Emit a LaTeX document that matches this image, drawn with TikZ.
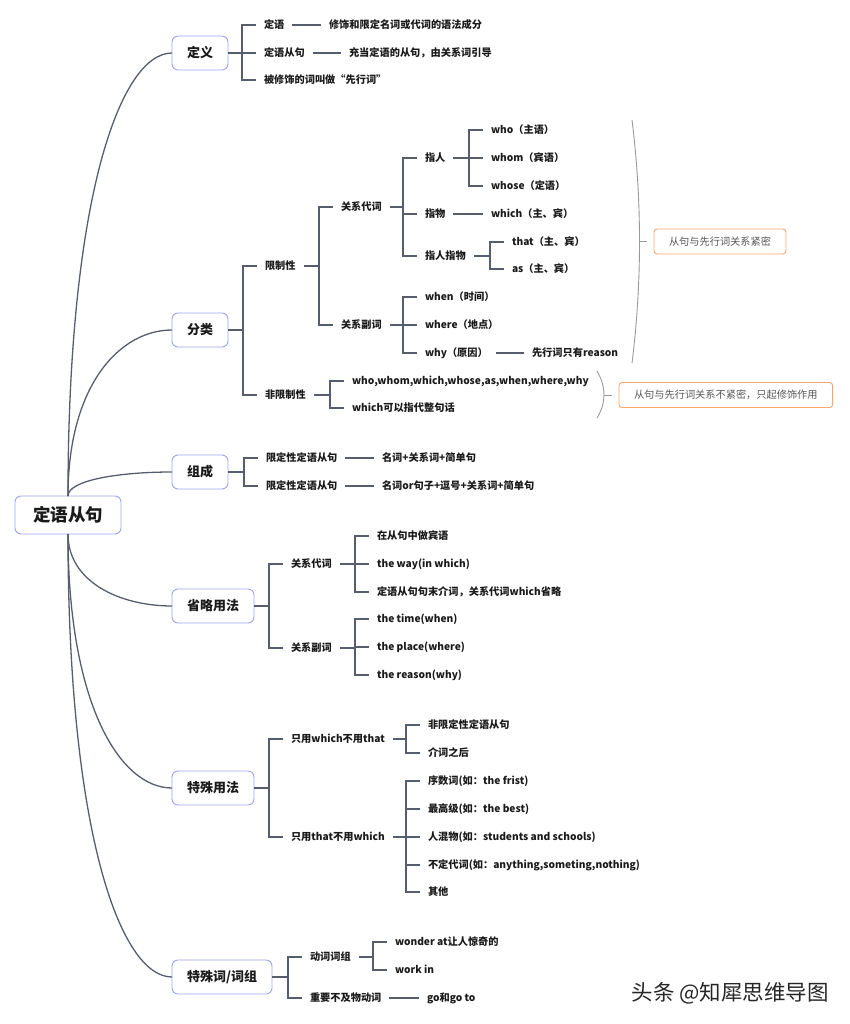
\documentclass[tikz,border=0pt]{standalone}
\usepackage{fontspec}
\setmainfont{Noto Sans CJK SC}
\definecolor{lc}{HTML}{565D6C}
\definecolor{bx}{HTML}{9EA2F2}
\definecolor{oc}{HTML}{F7A66C}
\definecolor{gc}{HTML}{9A9A9A}
\definecolor{nc}{HTML}{555555}
\definecolor{tc}{HTML}{1A1A1A}
\begin{document}
\begin{tikzpicture}[x=1pt,y=-1pt,
 conn/.style={draw=lc, line width=1.4pt},
 curv/.style={draw=lc, line width=1.3pt},
 rootbox/.style={draw=bx, line width=0.9pt, rounded corners=6pt, fill=white, text=tc,
   font=\fontsize{17.5}{20}\selectfont\bfseries, inner xsep=18pt, minimum height=38pt, anchor=west, outer sep=0pt},
 mainbox/.style={draw=bx, line width=0.9pt, rounded corners=6pt, fill=white, text=tc,
   font=\fontsize{13}{15}\selectfont\bfseries, inner xsep=15pt, minimum height=34pt, anchor=west, outer sep=0pt},
 leaf/.style={font=\fontsize{10.2}{12}\selectfont\bfseries, text=tc, inner xsep=0pt, inner ysep=1pt,
   outer xsep=8pt, outer ysep=0pt, text height=8.5pt, text depth=1.7pt, anchor=west},
 note/.style={draw=oc, line width=0.9pt, rounded corners=3pt, font=\fontsize{10.2}{12}\selectfont,
   text=nc, inner xsep=15pt, minimum height=25pt, anchor=west, outer sep=0pt},
 brc/.style={draw=gc, line width=0.9pt},
 wm/.style={font=\fontsize{21.5}{25}\selectfont, text=black!85, anchor=west}
]
\useasboundingbox (0,0) rectangle (849,1024);

% root and main branches
\node[rootbox] (root) at (15,515) {定语从句};
\node[mainbox] (d1) at (172,53) {定义};
\node[mainbox] (d2) at (172,330) {分类};
\node[mainbox] (d3) at (172,472) {组成};
\node[mainbox] (d4) at (172,606) {省略用法};
\node[mainbox] (d5) at (172,788) {特殊用法};
\node[mainbox] (d6) at (172,977) {特殊词/词组};

\draw[curv] (root.north) .. controls +(0,-297) and +(-52,0) .. (d1.west);
\draw[curv] (root.north) .. controls +(0,-111) and +(-52,0) .. (d2.west);
\draw[curv] (root.north) .. controls +(0,-16) and +(-52,0) .. (d3.west);
\draw[curv] (root.south) .. controls +(0,48) and +(-52,0) .. (d4.west);
\draw[curv] (root.south) .. controls +(0,170) and +(-52,0) .. (d5.west);
\draw[curv] (root.south) .. controls +(0,297) and +(-52,0) .. (d6.west);

% 定义
\node[leaf] (a1) at (256,25) {定语};
\node[leaf] (a2) at (256,53) {定语从句};
\node[leaf] (a3) at (256,80) {被修饰的词叫做“先行词”};
\node[leaf] (a1c) at (321,25) {修饰和限定名词或代词的语法成分};
\node[leaf] (a2c) at (341,53) {充当定语的从句，由关系词引导};
\foreach \c in {a1,a2,a3} \draw[conn] (\c.west) -- ++(-14,0) |- (d1.east);
\draw[conn] (a1.east) -- (a1c.west);
\draw[conn] (a2.east) -- (a2c.west);

% 分类
\node[leaf] (b1) at (257,266) {限制性};
\node[leaf] (b2) at (257,395) {非限制性};
\node[leaf] (b11) at (333,207) {关系代词};
\node[leaf] (b12) at (333,325) {关系副词};
\node[leaf] (b111) at (417,158) {指人};
\node[leaf] (b112) at (417,214) {指物};
\node[leaf] (b113) at (417,256) {指人指物};
\node[leaf] (c1) at (483,130) {who（主语）};
\node[leaf] (c2) at (483,158) {whom（宾语）};
\node[leaf] (c3) at (483,186) {whose（定语）};
\node[leaf] (c4) at (483,214) {which（主、宾）};
\node[leaf] (c5) at (504,242) {that（主、宾）};
\node[leaf] (c6) at (504,269) {as（主、宾）};
\node[leaf] (c7) at (417,297) {when（时间）};
\node[leaf] (c8) at (417,325) {where（地点）};
\node[leaf] (c9) at (417,353) {why（原因）};
\node[leaf] (c9c) at (524,353) {先行词只有reason};
\node[leaf] (c10) at (344,381) {who,whom,which,whose,as,when,where,why};
\node[leaf] (c11) at (344,408) {which可以指代整句话};
\foreach \c in {b1,b2} \draw[conn] (\c.west) -- ++(-14,0) |- (d2.east);
\foreach \c in {b11,b12} \draw[conn] (\c.west) -- ++(-14,0) |- (b1.east);
\foreach \c in {b111,b112,b113} \draw[conn] (\c.west) -- ++(-14,0) |- (b11.east);
\foreach \c in {c1,c2,c3} \draw[conn] (\c.west) -- ++(-14,0) |- (b111.east);
\draw[conn] (b112.east) -- (c4.west);
\foreach \c in {c5,c6} \draw[conn] (\c.west) -- ++(-14,0) |- (b113.east);
\foreach \c in {c7,c8,c9} \draw[conn] (\c.west) -- ++(-14,0) |- (b12.east);
\draw[conn] (c9.east) -- (c9c.west);
\foreach \c in {c10,c11} \draw[conn] (\c.west) -- ++(-14,0) |- (b2.east);

% notes with braces
\node[note] (ob1) at (654,241.5) {从句与先行词关系紧密};
\node[note] (ob2) at (619,395) {从句与先行词关系不紧密，只起修饰作用};
\draw[brc] (632,120) .. controls (642,200) and (642,283) .. (632,363);
\coordinate (k1) at (639.5,241.5);
\draw[brc, shorten >=7pt] (k1) -- (ob1.west);
\draw[brc] (597,371) .. controls (606.3,387) and (606.3,403) .. (597,418);
\coordinate (k2) at (604,395);
\draw[brc, shorten >=7pt] (k2) -- (ob2.west);

% 组成
\node[leaf] (e1) at (258,458) {限定性定语从句};
\node[leaf] (e2) at (258,486) {限定性定语从句};
\node[leaf] (e1c) at (374,458) {名词+关系词+简单句};
\node[leaf] (e2c) at (374,486) {名词or句子+逗号+关系词+简单句};
\foreach \c in {e1,e2} \draw[conn] (\c.west) -- ++(-14,0) |- (d3.east);
\draw[conn] (e1.east) -- (e1c.west);
\draw[conn] (e2.east) -- (e2c.west);

% 省略用法
\node[leaf] (f1) at (283,564) {关系代词};
\node[leaf] (f2) at (283,648) {关系副词};
\node[leaf] (f11) at (369,536) {在从句中做宾语};
\node[leaf] (f12) at (369,564) {the way(in which)};
\node[leaf] (f13) at (369,592) {定语从句句末介词，关系代词which省略};
\node[leaf] (f21) at (369,619) {the time(when)};
\node[leaf] (f22) at (369,647) {the place(where)};
\node[leaf] (f23) at (369,675) {the reason(why)};
\foreach \c in {f1,f2} \draw[conn] (\c.west) -- ++(-14,0) |- (d4.east);
\foreach \c in {f11,f12,f13} \draw[conn] (\c.west) -- ++(-14,0) |- (f1.east);
\foreach \c in {f21,f22,f23} \draw[conn] (\c.west) -- ++(-14,0) |- (f2.east);

% 特殊用法
\node[leaf] (g1) at (283,739) {只用which不用that};
\node[leaf] (g2) at (283,837) {只用that不用which};
\node[leaf] (g11) at (420,725) {非限定性定语从句};
\node[leaf] (g12) at (420,753) {介词之后};
\node[leaf] (g21) at (420,781) {序数词(如：the frist)};
\node[leaf] (g22) at (420,809) {最高级(如：the best)};
\node[leaf] (g23) at (420,837) {人混物(如：students and schools)};
\node[leaf] (g24) at (420,865) {不定代词(如：anything,someting,nothing)};
\node[leaf] (g25) at (420,892) {其他};
\foreach \c in {g1,g2} \draw[conn] (\c.west) -- ++(-14,0) |- (d5.east);
\foreach \c in {g11,g12} \draw[conn] (\c.west) -- ++(-14,0) |- (g1.east);
\foreach \c in {g21,g22,g23,g24,g25} \draw[conn] (\c.west) -- ++(-14,0) |- (g2.east);

% 特殊词/词组
\node[leaf] (h1) at (302,957) {动词词组};
\node[leaf] (h2) at (302,998) {重要不及物动词};
\node[leaf] (h11) at (387,942) {wonder at让人惊奇的};
\node[leaf] (h12) at (387,970) {work in};
\node[leaf] (h2c) at (419,998) {go和go to};
\foreach \c in {h1,h2} \draw[conn] (\c.west) -- ++(-14,0) |- (d6.east);
\foreach \c in {h11,h12} \draw[conn] (\c.west) -- ++(-14,0) |- (h1.east);
\draw[conn] (h2.east) -- (h2c.west);

% watermark
\node[wm] (wmk) at (628,993) {头条 @知犀思维导图};
\end{tikzpicture}
\end{document}
